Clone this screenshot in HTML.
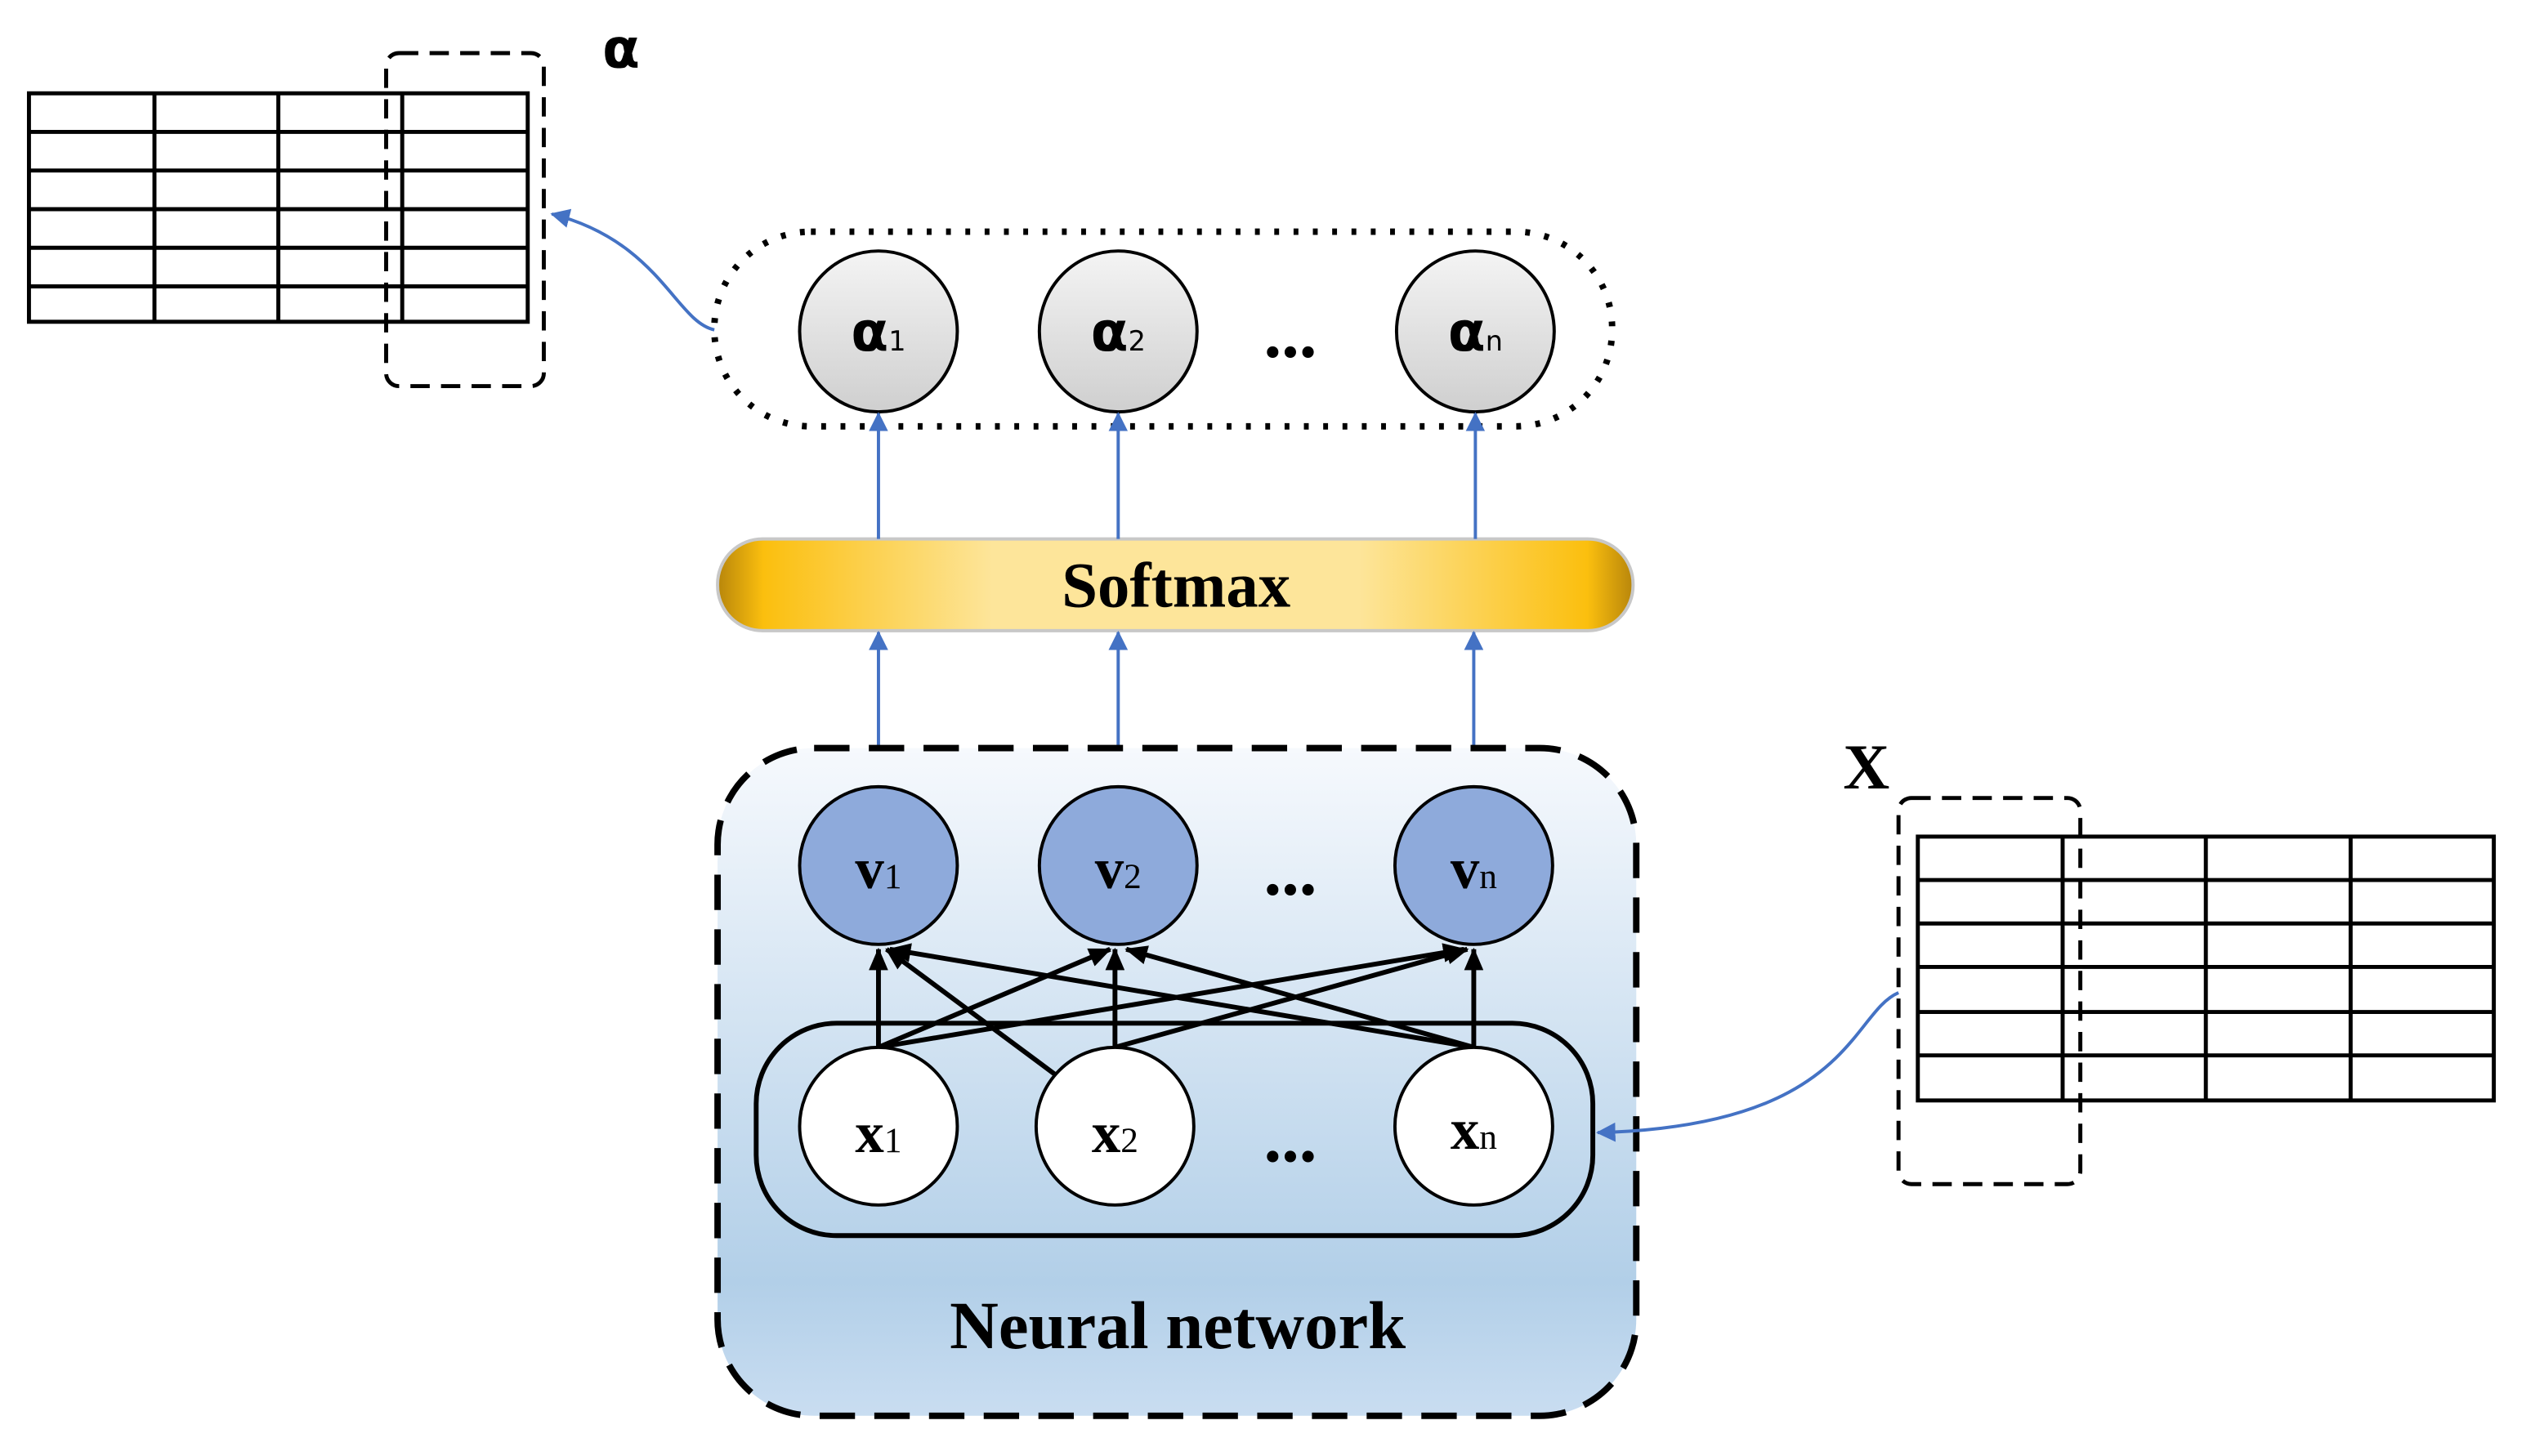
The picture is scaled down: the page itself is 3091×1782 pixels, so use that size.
<!DOCTYPE html>
<html><head><meta charset="utf-8"><style>html,body{margin:0;padding:0;background:#fff}svg{display:block}</style></head><body>
<svg width="3091" height="1782" viewBox="0 0 1570 905" preserveAspectRatio="none" xmlns="http://www.w3.org/2000/svg">
<defs>
<linearGradient id="nn" x1="0" y1="0" x2="0" y2="1"><stop offset="0" stop-color="#f6f9fd"/><stop offset="0.8" stop-color="#b2cfe8"/><stop offset="1" stop-color="#c9ddf1"/></linearGradient>
<linearGradient id="sm" x1="0" y1="0" x2="1" y2="0"><stop offset="0" stop-color="#b8860b"/><stop offset="0.05" stop-color="#fbbf0e"/><stop offset="0.3" stop-color="#fde59a"/><stop offset="0.7" stop-color="#fde59a"/><stop offset="0.95" stop-color="#fbbf0e"/><stop offset="1" stop-color="#b8860b"/></linearGradient>
<linearGradient id="al" x1="0" y1="0" x2="0" y2="1"><stop offset="0" stop-color="#f4f4f4"/><stop offset="1" stop-color="#cfcfcf"/></linearGradient>
<marker id="ab" markerWidth="12" markerHeight="12" refX="11" refY="6" orient="auto" markerUnits="userSpaceOnUse"><path d="M0,0 L12,6 L0,12 z" fill="#4472c4"/></marker>
<marker id="ak" markerWidth="14" markerHeight="12" refX="13" refY="6" orient="auto" markerUnits="userSpaceOnUse"><path d="M0,0 L14,6 L0,12 z" fill="#000"/></marker>
</defs>
<g font-family="'Liberation Serif',serif" font-weight="bold">
<g stroke="#000" stroke-width="2.5" fill="none">
<rect x="18" y="58" width="310" height="142"/>
<line x1="96" y1="58" x2="96" y2="200"/><line x1="173" y1="58" x2="173" y2="200"/><line x1="250" y1="58" x2="250" y2="200"/>
<line x1="18" y1="82" x2="328" y2="82"/><line x1="18" y1="106" x2="328" y2="106"/><line x1="18" y1="130" x2="328" y2="130"/><line x1="18" y1="154" x2="328" y2="154"/><line x1="18" y1="178" x2="328" y2="178"/>
<rect x="240" y="33" width="98" height="207" rx="8" stroke-dasharray="12,7"/>
</g>
<text x="386" y="42" font-family="'DejaVu Sans',sans-serif" font-size="34" text-anchor="middle">α</text>
<rect x="444" y="144" width="558" height="121" rx="60" fill="none" stroke="#000" stroke-width="4" stroke-dasharray="3,9"/>
<path d="M444,205 C420,200 410,150 343,133" fill="none" stroke="#4472c4" stroke-width="2" marker-end="url(#ab)"/>
<g stroke="#000" stroke-width="2" fill="url(#al)">
<ellipse cx="546" cy="206" rx="49" ry="50"/><ellipse cx="695" cy="206" rx="49" ry="50"/><ellipse cx="917" cy="206" rx="49" ry="50"/>
</g>
<g font-family="'DejaVu Sans',sans-serif" font-size="34" text-anchor="middle">
<text x="546" y="218">α<tspan font-size="17" font-weight="normal">1</tspan></text>
<text x="695" y="218">α<tspan font-size="17" font-weight="normal">2</tspan></text>
<text x="917" y="218">α<tspan font-size="17" font-weight="normal">n</tspan></text>
</g>
<text x="802" y="222" font-size="44" text-anchor="middle">...</text>
<rect x="446" y="335" width="569" height="57" rx="28" fill="url(#sm)" stroke="#c8c8c8" stroke-width="2"/>
<text x="731" y="377" font-size="40" text-anchor="middle">Softmax</text>
<g stroke="#4472c4" stroke-width="2" fill="none" marker-end="url(#ab)">
<line x1="546" y1="335" x2="546" y2="257"/><line x1="695" y1="335" x2="695" y2="257"/><line x1="917" y1="335" x2="917" y2="257"/>
<line x1="546" y1="490" x2="546" y2="393"/><line x1="695" y1="490" x2="695" y2="393"/><line x1="916" y1="490" x2="916" y2="393"/>
</g>
<rect x="446" y="465" width="571" height="415" rx="60" fill="url(#nn)" stroke="#000" stroke-width="4" stroke-dasharray="22,12"/>
<rect x="470" y="636" width="520" height="132" rx="50" fill="none" stroke="#000" stroke-width="3"/>
<g stroke="#000" stroke-width="3" marker-end="url(#ak)">
<line x1="546" y1="651" x2="546" y2="590"/>
<line x1="546" y1="651" x2="690" y2="590"/>
<line x1="546" y1="651" x2="910" y2="590"/>
<line x1="656" y1="668" x2="551" y2="590"/>
<line x1="693" y1="651" x2="693" y2="590"/>
<line x1="693" y1="651" x2="912" y2="590"/>
<line x1="916" y1="651" x2="553" y2="590"/>
<line x1="916" y1="651" x2="700" y2="590"/>
<line x1="916" y1="651" x2="916" y2="590"/>
</g>
<g stroke="#000" stroke-width="2" fill="#8eaadb">
<ellipse cx="546" cy="538" rx="49" ry="49"/><ellipse cx="695" cy="538" rx="49" ry="49"/><ellipse cx="916" cy="538" rx="49" ry="49"/>
</g>
<g stroke="#000" stroke-width="2" fill="#fff">
<ellipse cx="546" cy="700" rx="49" ry="49"/><ellipse cx="693" cy="700" rx="49" ry="49"/><ellipse cx="916" cy="700" rx="49" ry="49"/>
</g>
<g font-size="36" text-anchor="middle">
<text x="546" y="552">v<tspan font-size="22" font-weight="normal">1</tspan></text>
<text x="695" y="552">v<tspan font-size="22" font-weight="normal">2</tspan></text>
<text x="916" y="552">v<tspan font-size="22" font-weight="normal">n</tspan></text>
<text x="546" y="716">x<tspan font-size="22" font-weight="normal">1</tspan></text>
<text x="693" y="716">x<tspan font-size="22" font-weight="normal">2</tspan></text>
<text x="916" y="714">x<tspan font-size="22" font-weight="normal">n</tspan></text>
</g>
<text x="802" y="556" font-size="44" text-anchor="middle">...</text>
<text x="802" y="722" font-size="44" text-anchor="middle">...</text>
<text x="732" y="838" font-size="42" text-anchor="middle">Neural network</text>
<g stroke="#000" stroke-width="2.5" fill="none">
<rect x="1192" y="520" width="358" height="164"/>
<line x1="1282" y1="520" x2="1282" y2="684"/><line x1="1371" y1="520" x2="1371" y2="684"/><line x1="1461" y1="520" x2="1461" y2="684"/>
<line x1="1192" y1="547" x2="1550" y2="547"/><line x1="1192" y1="574" x2="1550" y2="574"/><line x1="1192" y1="601" x2="1550" y2="601"/><line x1="1192" y1="629" x2="1550" y2="629"/><line x1="1192" y1="656" x2="1550" y2="656"/>
<rect x="1180" y="496" width="113" height="240" rx="8" stroke-dasharray="12,7"/>
</g>
<text x="1160" y="490" font-size="40" text-anchor="middle">X</text>
<path d="M1180,617 C1150,630 1150,700 993,704" fill="none" stroke="#4472c4" stroke-width="2" marker-end="url(#ab)"/>
</g>
</svg>
</body></html>
